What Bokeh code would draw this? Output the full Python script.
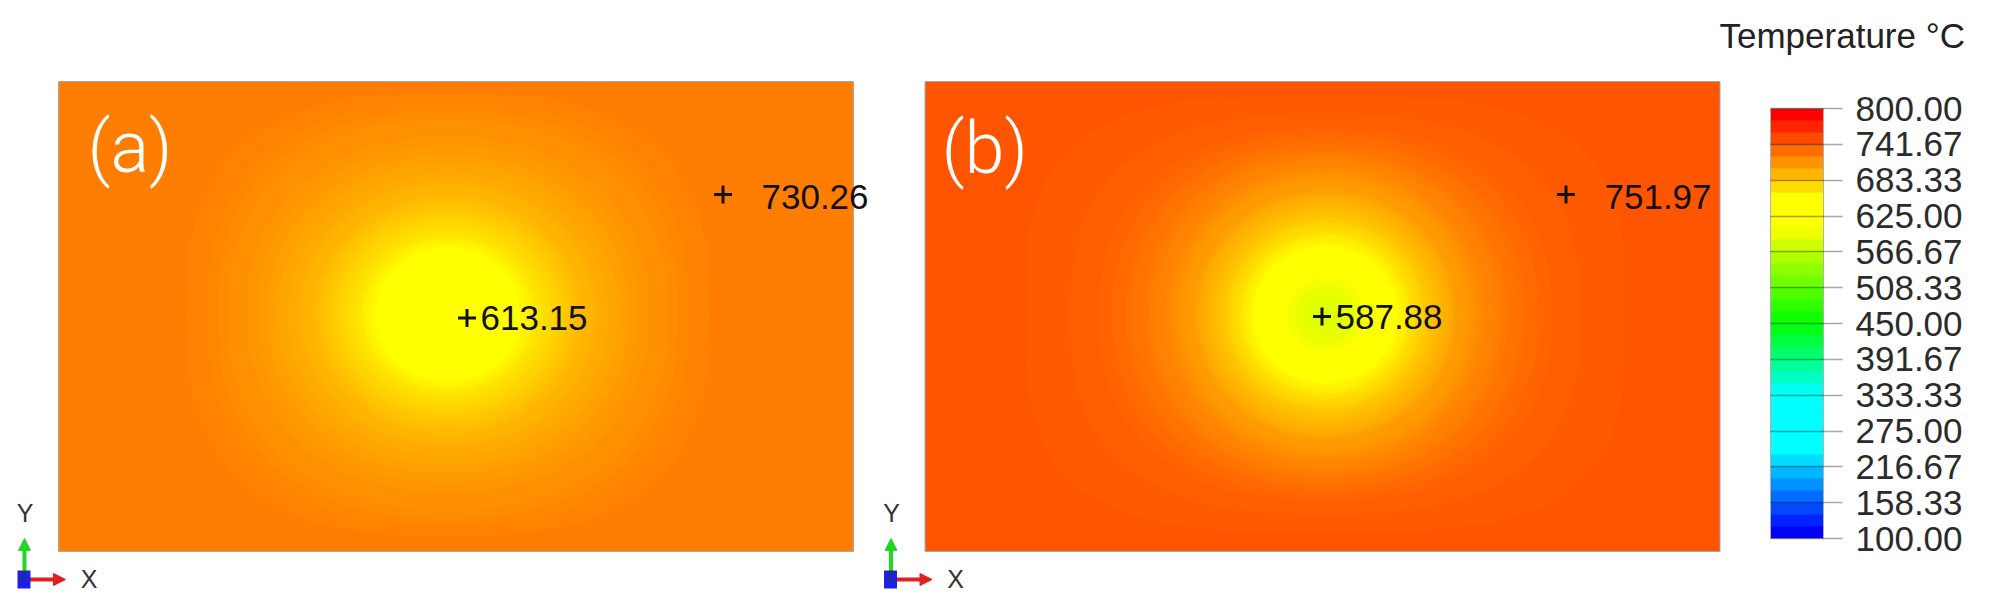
import numpy as np
from bokeh.plotting import figure
from bokeh.models import (Range1d, ColorBar, LinearColorMapper, FixedTicker,
                          PrintfTickFormatter, ColumnDataSource)
from bokeh.transform import linear_cmap
from bokeh.core.properties import value
from bokeh.embed import file_html
from bokeh.resources import INLINE

# ---------------- data ----------------
T_MIN, T_MAX = 100.0, 800.0
bar_ticks = [100.00, 158.33, 216.67, 275.00, 333.33, 391.67, 450.00,
             508.33, 566.67, 625.00, 683.33, 741.67, 800.00]
n_bands = 36
bar_title = "Temperature °C"
panel_labels = ["(a)", "(b)"]

# panel (a): iso-temperature rings (half width, half height in plate px, temperature)
edge_T_a = 730.3
field_center_a = (-8.0, 2.0)
ring_hw_a = [340, 280, 262, 250, 240, 230, 220, 210, 200, 190, 180, 170, 165, 160,
             155, 150, 145, 140, 135, 130, 125, 120, 115, 110, 105, 100, 95, 90,
             85, 80, 76, 72, 60, 45, 30, 15, 7]
ring_hh_a = [229, 226, 222, 218, 211, 203, 195, 186, 177, 168, 159, 150, 146, 141,
             137, 133, 128, 124, 119.5, 115, 110.5, 106, 102, 98, 93, 89, 84.5, 80,
             76, 72, 68.5, 66, 55, 42, 28, 14, 6.5]
ring_T_a = [730.0, 729.5, 728.5, 726.8, 724.5, 722.5, 720.4, 718.2, 716.0, 713.8,
            711.6, 709.4, 708.0, 706.5, 704.8, 703.0, 701.0, 699.0, 696.8, 694.5,
            692.3, 690.0, 687.3, 684.5, 681.5, 678.5, 675.3, 672.0, 668.5, 665.0,
            662.5, 660.0, 650.0, 638.0, 627.0, 617.0, 613.2]
min_node_a = (11.0, -1.5)
min_val_a = 613.15
probe_node_a = (267.0, 122.0)
probe_val_a = 730.26

# panel (b)
edge_T_b = 752.0
field_center_b = (3.0, 2.0)
ring_hw_b = [340, 300, 275, 255, 240, 226, 213, 200, 194, 188, 182, 176, 170, 165,
             160, 155, 150, 145, 140.5, 136, 131.5, 127, 122.5, 118, 114, 110, 106,
             102, 98, 94, 90.5, 87, 83.5, 80, 76.5, 73, 60, 48, 38, 30, 22, 14, 7]
ring_hh_b = [228, 219, 209, 200, 192, 186, 180, 173, 170, 167, 163, 160, 156, 153,
             149, 146, 142.5, 138, 133.5, 129, 125, 121, 116.5, 112, 108, 105, 100.5,
             97, 93, 89, 86, 83, 79.5, 76, 72.5, 69, 57, 46, 36, 29, 21, 13, 7]
ring_T_b = [751.3, 750.0, 748.8, 747.2, 745.5, 743.5, 741.0, 738.0, 736.3, 734.5,
            732.5, 730.5, 728.5, 726.5, 724.3, 722.0, 719.8, 717.5, 715.0, 712.5,
            709.8, 707.0, 704.0, 701.0, 698.0, 695.0, 691.8, 688.5, 685.0, 681.5,
            678.0, 674.5, 671.0, 667.5, 663.8, 660.0, 640.0, 618.0, 603.0, 597.0,
            593.0, 590.0, 588.0]
min_node_b = (-0.5, 0.0)
min_val_b = 587.88
probe_node_b = (243.5, 122.0)
probe_val_b = 751.97

# ---------------- style / layout ----------------
W, H = 1990, 600
PLATE_HALF = (397.5, 235.0)
PANEL_CENTERS = [(455.5, 290.0), (1322.0, 290.0)]
LABEL_POS = [(87, 459), (941, 458)]
FONT = value("Liberation Sans")

SPECTRUM = [(0.0, (0, 0, 255)), (0.2, (0, 255, 255)), (0.333, (0, 255, 255)),
            (0.5, (0, 255, 0)), (0.73, (255, 255, 0)), (0.8, (255, 255, 0)),
            (1.0, (255, 0, 0))]


def spectrum(t):
    ts = [s[0] for s in SPECTRUM]
    rgb = [int(round(np.interp(t, ts, [s[1][k] for s in SPECTRUM]))) for k in range(3)]
    return "#%02x%02x%02x" % tuple(rgb)


plate_palette = [spectrum(i / 255) for i in range(256)]
band_palette = [spectrum(i / (n_bands - 1)) for i in range(n_bands)]


def superellipse(hw, hh, m=200):
    n = 2.0 + 4.0 * (hw / 400.0) ** 4
    th = np.linspace(0, 2 * np.pi, m, endpoint=False)
    c, s = np.cos(th), np.sin(th)
    x = hw * np.sign(c) * np.abs(c) ** (2 / n)
    y = hh * np.sign(s) * np.abs(s) ** (2 / n)
    return x, y


p = figure(width=W, height=H, x_range=Range1d(0, W), y_range=Range1d(606 - H, 606),
           output_backend="svg", toolbar_location=None, min_border=0,
           x_axis_type=None, y_axis_type=None, outline_line_color=None)
p.grid.visible = False
p.background_fill_color = "white"
p.border_fill_color = "white"

cmap = linear_cmap("T", plate_palette, T_MIN, T_MAX)

panels = [
    dict(edge=edge_T_a, fc=field_center_a, hw=ring_hw_a, hh=ring_hh_a, T=ring_T_a,
         mn=min_node_a, mv=min_val_a, pn=probe_node_a, pv=probe_val_a),
    dict(edge=edge_T_b, fc=field_center_b, hw=ring_hw_b, hh=ring_hh_b, T=ring_T_b,
         mn=min_node_b, mv=min_val_b, pn=probe_node_b, pv=probe_val_b),
]

for i, pan in enumerate(panels):
    cx, cy = PANEL_CENTERS[i]
    hx, hy = PLATE_HALF
    # plate background at edge temperature
    bg = ColumnDataSource(dict(l=[cx - hx], r=[cx + hx], b=[cy - hy], t=[cy + hy],
                               T=[pan["edge"]]))
    p.quad(left="l", right="r", bottom="b", top="t", source=bg,
           fill_color=cmap, line_color=None)
    fx, fy = cx + pan["fc"][0], cy + pan["fc"][1]
    xs, ys = [], []
    for hw, hh in zip(pan["hw"], pan["hh"]):
        x, y = superellipse(hw, hh)
        xs.append(list(np.clip(fx + x, cx - hx, cx + hx)))
        ys.append(list(np.clip(fy + y, cy - hy, cy + hy)))
    src = ColumnDataSource(dict(xs=xs, ys=ys, T=pan["T"]))
    p.patches("xs", "ys", source=src, fill_color=cmap, line_color=None)
    p.quad(left=[cx - hx], right=[cx + hx], bottom=[cy - hy], top=[cy + hy],
           fill_color=None, line_color="#a8a8a8", line_width=1)

    # panel label
    lx, ly = LABEL_POS[i]
    p.text(x=[lx], y=[ly], text=[panel_labels[i]], text_color="white",
           text_font=value("Roboto Light"), text_font_size="72px",
           text_baseline="middle", text_align="left")

    # node markers and values
    nodes_x = [cx + pan["mn"][0], cx + pan["pn"][0]]
    nodes_y = [cy + pan["mn"][1], cy + pan["pn"][1]]
    p.scatter(nodes_x, nodes_y, marker="cross", size=18, line_width=3,
              line_color="#111111")
    p.text(x=[nodes_x[0] + 13.5, nodes_x[1] + 38.5],
           y=[nodes_y[0], nodes_y[1] - 2.5],
           text=["%.2f" % pan["mv"], "%.2f" % pan["pv"]],
           text_font=FONT, text_font_size="35px", text_color="#111111",
           text_baseline="middle", text_align="left")

    # axis triad
    ox, oy = cx - hx - 34, cy - hy - 28
    p.segment(x0=[ox], y0=[oy], x1=[ox], y1=[oy + 30], line_color="#1fd81f", line_width=4)
    p.patch(x=[ox - 6, ox + 6, ox], y=[oy + 29, oy + 29, oy + 41],
            fill_color="#1fd81f", line_color="#1fd81f")
    p.segment(x0=[ox], y0=[oy], x1=[ox + 30], y1=[oy], line_color="#e02020", line_width=4)
    p.patch(x=[ox + 29, ox + 29, ox + 41], y=[oy - 6, oy + 6, oy],
            fill_color="#e02020", line_color="#e02020")
    p.quad(left=[ox - 7], right=[ox + 6], bottom=[oy - 9], top=[oy + 9],
           fill_color="#1a22e8", line_color=None)
    p.text(x=[ox - 0.5], y=[oy + 4], text=["Z"], text_font=FONT, text_font_size="13px",
           text_color="#333333", text_align="center", text_baseline="middle")
    p.text(x=[ox + 0.5, ox + 64.5], y=[oy + 67, oy + 0.5], text=["Y", "X"],
           text_font=FONT, text_font_size="25px", text_color="#333333",
           text_align="center", text_baseline="middle")

# colour bar
bar_mapper = LinearColorMapper(palette=band_palette, low=T_MIN, high=T_MAX)
cb = ColorBar(color_mapper=bar_mapper, ticker=FixedTicker(ticks=bar_ticks),
              formatter=PrintfTickFormatter(format="%.2f"),
              location=(1770, H - 538), width=53, height=430, padding=0, margin=0,
              major_tick_in=53, major_tick_out=19, major_tick_line_color="black",
              major_tick_line_alpha=0.35, major_tick_line_width=1.5,
              minor_tick_line_color=None,
              label_standoff=13, major_label_text_font="Arial",
              major_label_text_font_size="35px", major_label_text_color="#2b2b2b",
              bar_line_color="#b0b0b0", bar_line_width=1,
              border_line_color=None, background_fill_color=None)
p.add_layout(cb)

p.text(x=[1719], y=[571], text=[bar_title], text_font=FONT, text_font_size="35px",
       text_color="#222222", text_baseline="middle", text_align="left")

open("out.html", "w").write(file_html(p, INLINE))
